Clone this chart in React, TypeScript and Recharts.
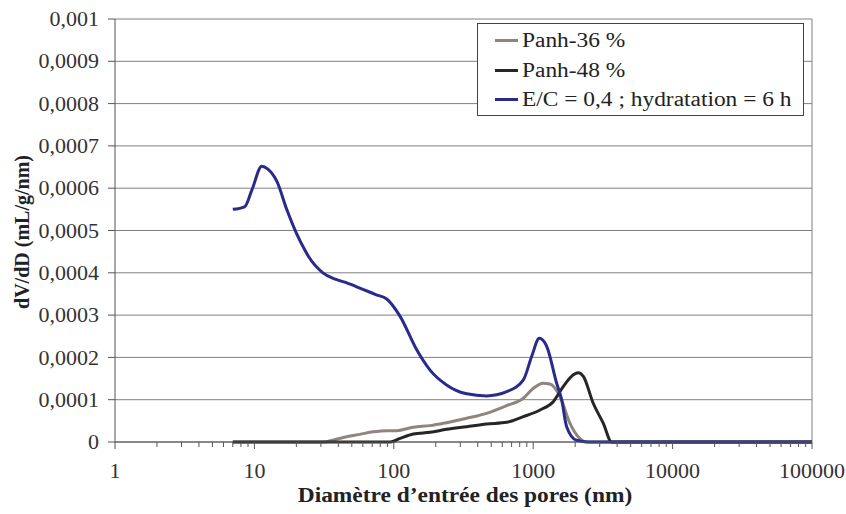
import { LineChart, Line, XAxis, YAxis, CartesianGrid, ReferenceLine } from 'recharts';

// E/C = 0,4 ; hydratation = 6 h
const blueX = [7, 8.5, 9.6, 11.3, 12.5, 14.5, 17.1, 20, 23, 24.4, 31, 38, 46, 57, 75, 89, 111, 146, 182, 239, 333, 463, 646, 850, 975, 1106, 1250, 1473, 1600, 1738, 2045, 2500, 5000, 20000, 100000];
const blueY = [0.00055, 0.000556, 0.000596, 0.000652, 0.000645, 0.000616, 0.000549, 0.000494, 0.000454, 0.000439, 0.0004, 0.000385, 0.000376, 0.000364, 0.000348, 0.000338, 0.000297, 0.000218, 0.00017, 0.000135, 0.000114, 0.000109, 0.000119, 0.000147, 0.000202, 0.000245, 0.000226, 0.000139, 0.0001, 0.000036, 0.000004, 0, 0, 0, 0];

// Panh-36 %
const greyX = [7, 20, 31, 38, 46, 57, 71, 89, 105, 138, 182, 239, 333, 463, 646, 850, 1003, 1177, 1318, 1560, 1836, 2100, 2400, 5000, 100000];
const greyY = [0, 0, 0, 0.000006, 0.0000125, 0.000018, 0.000024, 0.0000268, 0.0000268, 0.000035, 0.0000387, 0.0000457, 0.000056, 0.0000678, 0.000086, 0.0001034, 0.000127, 0.000139, 0.000137, 0.000107, 0.000044, 0.0000125, 0, 0, 0];

// Panh-48 %
const blackX = [7, 50, 94, 111, 138, 182, 239, 333, 463, 646, 850, 1119, 1393, 1642, 1940, 2105, 2290, 2695, 3184, 3655, 5000, 100000];
const blackY = [0, 0, 0, 0.0000087, 0.0000189, 0.000023, 0.00003, 0.0000363, 0.0000426, 0.0000466, 0.00006, 0.0000757, 0.0000954, 0.000131, 0.000159, 0.000164, 0.000155, 0.0000916, 0.000044, 0, 0, 0];

const X_MAJOR = [1, 10, 100, 1000, 10000, 100000];
const Y_TICKS = [0, 0.0001, 0.0002, 0.0003, 0.0004, 0.0005, 0.0006, 0.0007, 0.0008, 0.0009, 0.001];

const SERIES = [
  { name: 'Panh-36 %', color: '#8f8580', x: greyX, y: greyY },
  { name: 'Panh-48 %', color: '#262626', x: blackX, y: blackY },
  { name: 'E/C = 0,4 ; hydratation = 6 h', color: '#2a2a8c', x: blueX, y: blueY },
];

const X_TICKS = X_MAJOR.flatMap((m) =>
  m === 100000 ? [m] : [1, 2, 3, 4, 5, 6, 7, 8, 9].map((k) => k * m)
);

const FONT = '"Liberation Serif", "Times New Roman", serif';
// the source picture is stretched sideways a little
const STRETCH = 1.17;
const TICK_STRETCH = 1.1;

function XTick({ x, y, payload }: any) {
  const major = X_MAJOR.includes(payload.value);
  return (
    <g>
      <line x1={x} x2={x} y1={y} y2={y + (major ? 7 : 5)} stroke="#555" />
      {major && (
        <text
          transform={`translate(${x},${y + 36}) scale(${TICK_STRETCH},1)`}
          textAnchor="middle"
          fontSize={20}
          fontFamily={FONT}
          fill="#333"
        >
          {payload.value}
        </text>
      )}
    </g>
  );
}

const fmtY = (v: number) => String(+v.toFixed(4)).replace('.', ',');

function YTick({ x, y, payload }: any) {
  return (
    <text
      transform={`translate(${x},${y}) scale(${TICK_STRETCH},1)`}
      dy="0.355em"
      textAnchor="end"
      fontSize={20}
      fontFamily={FONT}
      fill="#333"
    >
      {fmtY(payload.value)}
    </text>
  );
}

export default function App() {
  return (
    <div style={{ position: 'absolute', left: 0, top: 0, width: 846, height: 514, background: '#fff' }}>
      <LineChart width={846} height={514} margin={{ top: 19, right: 34, bottom: 42, left: 0 }}>
        <CartesianGrid vertical={false} stroke="#808080" />
        <XAxis
          dataKey="x"
          type="number"
          scale="log"
          domain={[1, 100000]}
          allowDataOverflow
          ticks={X_TICKS}
          interval={0}
          height={30}
          tickSize={0}
          tickMargin={0}
          tickLine={false}
          tick={<XTick />}
          axisLine={{ stroke: '#555' }}
        />
        <YAxis
          type="number"
          domain={[0, 0.001]}
          ticks={Y_TICKS}
          interval={0}
          width={115}
          tickSize={7}
          tickMargin={9}
          tick={<YTick />}
          tickLine={{ stroke: '#555' }}
          axisLine={{ stroke: '#555' }}
        />
        <ReferenceLine x={100000} stroke="#808080" />
        {SERIES.map((s) => (
          <Line
            key={s.name}
            data={s.x.map((x, i) => ({ x, y: s.y[i] }))}
            dataKey="y"
            name={s.name}
            type="monotone"
            stroke={s.color}
            strokeWidth={3}
            dot={false}
            activeDot={false}
            isAnimationActive={false}
          />
        ))}
      </LineChart>

      {/* legend */}
      <div
        style={{
          position: 'absolute',
          left: 477,
          top: 23,
          width: 327,
          height: 93,
          border: '1px solid #444',
          background: '#fff',
          boxSizing: 'border-box',
          fontFamily: FONT,
          fontSize: 20,
          color: '#222',
          paddingTop: 2,
        }}
      >
        {SERIES.map((s) => (
          <div key={s.name} style={{ display: 'flex', alignItems: 'center', height: 29.5, whiteSpace: 'nowrap' }}>
            <span style={{ display: 'inline-block', width: 23, height: 3, background: s.color, marginLeft: 17, marginRight: 4 }} />
            <span style={{ display: 'inline-block', transform: `scaleX(${STRETCH})`, transformOrigin: 'left center' }}>{s.name}</span>
          </div>
        ))}
      </div>

      {/* axis titles */}
      <div
        style={{
          position: 'absolute',
          left: 0,
          top: 484,
          width: 930,
          textAlign: 'center',
          fontFamily: FONT,
          fontWeight: 'bold',
          fontSize: 20,
          color: '#222',
          transform: `scaleX(${STRETCH})`,
          transformOrigin: '465px 0',
        }}
      >
        Diamètre d’entrée des pores (nm)
      </div>
      <div
        style={{
          position: 'absolute',
          left: 22,
          top: 232,
          transform: 'translate(-50%, -50%) rotate(-90deg)',
          whiteSpace: 'nowrap',
          fontFamily: FONT,
          fontWeight: 'bold',
          fontSize: 20,
          color: '#222',
        }}
      >
        dV/dD (mL/g/nm)
      </div>
    </div>
  );
}
